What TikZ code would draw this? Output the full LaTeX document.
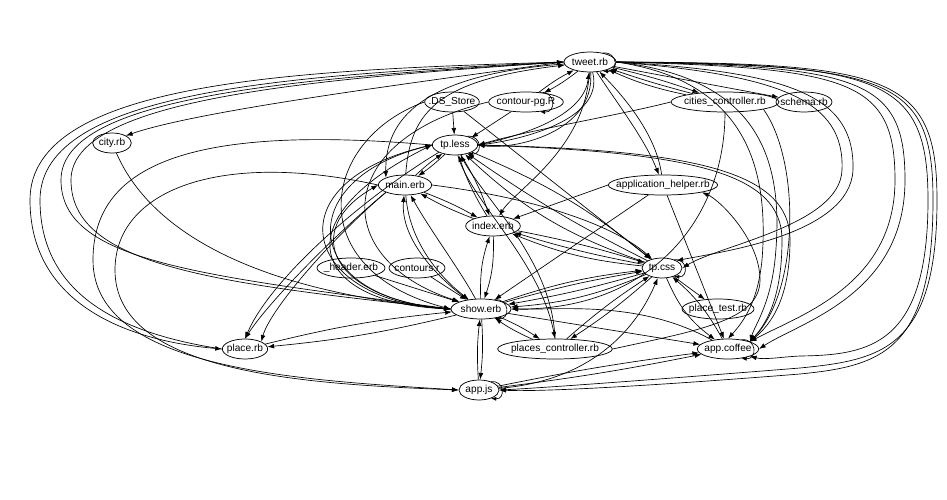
\documentclass[tikz,border=0pt]{standalone}
\usepackage{fontspec}
\setmainfont{Liberation Sans}
\usetikzlibrary{arrows.meta,shapes.geometric}
\tikzset{
  fnode/.style={ellipse, draw=black, line width=0.55pt, inner sep=0pt, minimum height=15pt, font=\fontsize{7.6}{9}\selectfont, execute at begin node={\hbox to 0pt\bgroup\hss}, execute at end node={\hss\egroup}},
  arrow/.style={-{Latex[length=5pt,width=3.6pt]}, line width=0.5pt},
  selfloop/.style={-{Latex[length=4pt,width=3pt]}, line width=0.5pt, looseness=2.2}
}

\begin{document}
\begin{tikzpicture}[x=0.75pt, y=-0.75pt]
\useasboundingbox (0,0) rectangle (947,500);
% ---- files ----
\node[fnode, minimum width=39pt] (tw) at (590,62) {tweet.rb};
\node[fnode, minimum width=41pt] (ds) at (452,102) {.DS\_Store};
\node[fnode, minimum width=56pt] (cp) at (526,102) {contour-pg.R};
\node[fnode, minimum width=81pt] (cc) at (725,102) {cities\_controller.rb};
\node[fnode, minimum width=42pt] (sc) at (804,102) {schema.rb};
\node[fnode, minimum width=29pt] (ci) at (112,143) {city.rb};
\node[fnode, minimum width=34pt] (tl) at (455,145) {tp.less};
\node[fnode, minimum width=40pt] (me) at (405,185) {main.erb};
\node[fnode, minimum width=82pt] (ah) at (663,185) {application\_helper.rb};
\node[fnode, minimum width=41pt] (ix) at (493,226) {index.erb};
\node[fnode, minimum width=30pt] (tc) at (662,268) {tp.css};
\node[fnode, minimum width=51pt] (he) at (351,268) {\_header.erb};
\node[fnode, minimum width=42pt] (cr) at (417,268) {contours.r};
\node[fnode, minimum width=45pt] (sh) at (481,309) {show.erb};
\node[fnode, minimum width=54pt] (pt) at (718,309) {place\_test.rb};
\node[fnode, minimum width=34pt] (pl) at (245,349) {place.rb};
\node[fnode, minimum width=86pt] (pc) at (555,349) {places\_controller.rb};
\node[fnode, minimum width=46pt] (ac) at (728,349) {app.coffee};
\node[fnode, minimum width=30pt] (aj) at (479,390) {app.js};
% ---- self loops ----
\foreach \n in {tw,cp,tl,sh,tc,ac,aj}
  \draw[selfloop] (\n.35) to[out=5,in=-5] (\n.-35);
% ---- tweet.rb ----
\draw[arrow] (tw) to[bend left=5] (cp);
\draw[arrow] (cp) to[bend left=5] (tw);
\draw[arrow] (tw) to[bend left=3] (cc);
\draw[arrow] (cc) to[bend left=2] (tw);
\draw[arrow] (cc) to[bend left=6] (tw);
\draw[arrow] (tw) -- (sc);
\draw[arrow] (tw.west) .. controls (420,82) and (200,110) .. (ci.north east);
\draw[arrow] (tw) .. controls (605,120) and (520,140) .. (tl.east);
\draw[arrow] (tw) .. controls (595,132) and (515,150) .. (tl.east);
\draw[arrow] (tl.east) .. controls (540,132) and (585,110) .. (tw);
\draw[arrow] (tw) .. controls (622,110) and (645,140) .. (ah);
\draw[arrow] (ah) .. controls (657,140) and (632,105) .. (tw);
\draw[arrow] (tw) .. controls (585,150) and (515,190) .. (ix);
\draw[arrow] (tw) .. controls (420,75) and (385,120) .. (me.north west);
\draw[arrow] (me) .. controls (410,110) and (440,80) .. (tw);
% ---- tweet.rb, round the right ----
\draw[arrow] (tw.east) .. controls (780,75) and (845,100) .. (842,170) .. controls (840,225) and (720,245) .. (tc.east);
\draw[arrow] (tw.east) .. controls (790,72) and (855,95) .. (853,170) .. controls (850,235) and (720,252) .. (tc.north east);
\draw[arrow] (tw.east) .. controls (740,80) and (770,160) .. (762,260) .. controls (758,300) and (745,320) .. (ac.north);
\draw[arrow] (tw.east) .. controls (760,78) and (785,160) .. (775,260) .. controls (770,305) and (755,325) .. (ac.north east);
\draw[arrow] (tw.east) .. controls (850,68) and (895,80) .. (895,180) .. controls (895,285) and (800,315) .. (ac.north east);
\draw[arrow] (tw.east) .. controls (860,66) and (905,78) .. (905,180) .. controls (905,295) and (800,322) .. (ac.east);
\draw[arrow] (tw.east) .. controls (880,64) and (928,76) .. (928,200) .. controls (928,345) and (870,355) .. (800,356) .. controls (780,357) and (765,360) .. (ac.south east);
\draw[arrow] (tw.east) .. controls (890,63) and (937,75) .. (937,200) .. controls (937,350) and (880,360) .. (800,368) .. controls (650,380) and (540,388) .. (aj.east);
\draw[arrow] (tw.east) .. controls (890,65) and (933,77) .. (933,200) .. controls (933,352) and (880,366) .. (800,374) .. controls (650,386) and (540,392) .. (aj.east);
% ---- tweet.rb, round the left ----
\draw[arrow] (tw.west) .. controls (300,70) and (30,80) .. (30,200) .. controls (30,300) and (120,340) .. (pl.west);
\draw[arrow] (pl.west) .. controls (130,335) and (40,300) .. (40,200) .. controls (40,88) and (300,75) .. (tw.west);
\draw[arrow] (tw.west) .. controls (300,78) and (61,95) .. (61,180) .. controls (61,262) and (200,275) .. (sh.west);
\draw[arrow] (sh.west) .. controls (210,283) and (71,265) .. (71,180) .. controls (71,100) and (300,80) .. (tw.west);
% ---- tp.less ----
\draw[arrow] (ds) -- (tl);
\draw[arrow] (cp) -- (tl.north east);
\draw[arrow] (cc.west) .. controls (620,115) and (530,130) .. (tl.east);
\draw[arrow] (tl.east) .. controls (690,150) and (790,170) .. (790,240) .. controls (790,300) and (770,325) .. (ac.north east);
\draw[arrow] (tl.east) .. controls (690,152) and (782,172) .. (782,240) .. controls (782,300) and (765,325) .. (ac.north east);
\draw[arrow] (tl.west) .. controls (200,125) and (93,160) .. (93,260) .. controls (93,370) and (300,380) .. (aj.west);
\draw[arrow] (me.west) .. controls (220,150) and (115,190) .. (115,270) .. controls (115,372) and (300,384) .. (aj.west);
\draw[arrow] (me) to[bend left=4] (tl);
\draw[arrow] (tl) to[bend left=4] (me);
\draw[arrow] (tl) to[bend left=6] (ix);
\draw[arrow] (ix) to[bend left=6] (tl);
\draw[arrow] (tl) .. controls (470,200) and (540,260) .. (pc.north);
\draw[arrow] (pc.north) .. controls (552,260) and (485,200) .. (tl);
\draw[arrow] (tl) to[bend left=8] (tc);
\draw[arrow] (tc) to[bend left=4] (tl);
\draw[arrow] (tc) to[bend left=12] (tl);
\draw[arrow] (tl.south west) .. controls (360,200) and (270,280) .. (pl.north);
\draw[arrow] (me.south west) .. controls (340,230) and (270,300) .. (pl.north);
% ---- main.erb ----
\draw[arrow] (me) to[bend left=4] (ix);
\draw[arrow] (ix) to[bend left=4] (me);
\draw[arrow] (me.east) .. controls (550,200) and (620,230) .. (tc);
\draw[arrow] (me.south west) .. controls (330,240) and (270,310) .. (pl.north east);
\draw[arrow] (sh) .. controls (440,280) and (400,240) .. (me);
\draw[arrow] (me) .. controls (410,250) and (450,285) .. (sh);
\draw[arrow] (sh) .. controls (460,270) and (430,230) .. (me);
\draw[arrow] (sh.west) .. controls (330,300) and (300,230) .. (me.west);
\draw[arrow] (sh.west) .. controls (310,305) and (280,220) .. (tl.west);
\draw[arrow] (sh.west) .. controls (300,300) and (290,180) .. (tl.west);
\draw[arrow] (tl.west) .. controls (270,180) and (300,300) .. (sh.west);
% ---- index.erb ----
\draw[arrow] (ah.west) -- (ix);
\draw[arrow] (ix) to[bend left=3] (tc);
\draw[arrow] (tc) to[bend left=3] (ix);
\draw[arrow] (tc) to[bend left=8] (ix);
\draw[arrow] (ix) to[bend left=10] (sh);
\draw[arrow] (sh) to[bend left=10] (ix);
% ---- tp.css ----
\draw[arrow] (ds) -- (tc);
\draw[arrow] (ah) -- (sh);
\draw[arrow] (ah) -- (ac);
\draw[arrow] (tc) -- (pt);
\draw[arrow] (sh) to[bend left=3] (tc);
\draw[arrow] (tc) to[bend left=3] (sh);
\draw[arrow] (sh) to[bend left=6] (tc);
\draw[arrow] (tc) to[bend left=9] (sh);
\draw[arrow] (tc) to[bend right=15] (ac);
\draw[arrow] (ac) to[bend right=10] (tc);
\draw[arrow] (tc) to[bend left=4] (pc);
\draw[arrow] (pc) to[bend left=4] (tc);
\draw[arrow] (aj) .. controls (600,380) and (640,320) .. (tc);
% ---- show.erb ----
\draw[arrow] (ds.west) .. controls (320,140) and (300,270) .. (sh.west);
\draw[arrow] (cp.west) .. controls (330,140) and (330,260) .. (sh.north west);
\draw[arrow] (ci) .. controls (150,230) and (250,290) .. (sh.west);
\draw[arrow] (cc.south) .. controls (725,220) and (650,310) .. (sh.east);
\draw[arrow] (he) -- (sh);
\draw[arrow] (cr) -- (sh);
\draw[arrow] (sh) to[bend left=4] (pl);
\draw[arrow] (pl) to[bend left=4] (sh);
\draw[arrow] (ac) .. controls (640,300) and (560,310) .. (sh.east);
\draw[arrow] (sh) to[bend left=5] (pc);
\draw[arrow] (pc) to[bend left=5] (sh);
\draw[arrow] (sh) -- (ac);
\draw[arrow] (sh) to[bend left=5] (aj);
\draw[arrow] (aj) to[bend left=5] (sh);
% ---- app.js and app.coffee ----
\draw[arrow] (aj) to[bend left=2] (ac);
\draw[arrow] (aj) to[bend right=2] (ac);
\draw[arrow] (cc.south east) .. controls (800,160) and (800,290) .. (ac.north east);
\draw[arrow] (pc.east) .. controls (700,330) and (760,320) .. (760,280) .. controls (760,240) and (720,200) .. (ah.south east);
\end{tikzpicture}
\end{document}
